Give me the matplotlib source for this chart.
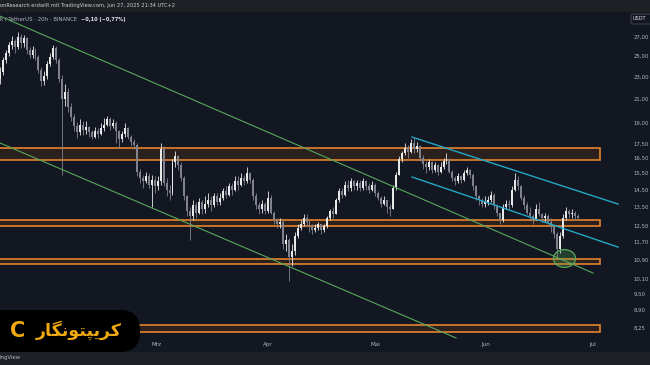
import matplotlib
matplotlib.use("Agg")
import matplotlib.pyplot as plt
import matplotlib.dates as mdates
from matplotlib.patches import Rectangle, FancyBboxPatch
from matplotlib.path import Path
from matplotlib.transforms import Affine2D
from matplotlib.ticker import NullLocator
from datetime import datetime, timedelta

# LINK/USDT 20h candles
candle_start = datetime(2025, 1, 16)
first_open = 22.8
closes = [23.4, 24.6, 25.3, 26.1, 26.6, 25.9, 27.0, 26.4, 26.9, 25.6,
          25.1, 25.6, 24.9, 23.6, 22.6, 23.0, 24.2, 24.9, 25.8, 24.6,
          22.8, 21.0, 21.6, 20.3, 19.5, 18.8, 18.3, 18.9, 18.5, 18.7,
          18.3, 18.0, 18.4, 18.2, 18.6, 18.9, 19.3, 18.8, 19.0, 18.4,
          17.8, 18.2, 18.6, 18.0, 17.6, 17.4, 15.6, 15.2, 15.0, 15.3,
          14.8, 15.1, 14.7, 15.0, 17.1, 14.9, 14.5, 14.3, 16.2, 16.6,
          16.0, 15.2, 14.1, 13.3, 13.0, 13.6, 13.2, 13.8, 13.4, 13.7,
          13.9, 13.6, 14.1, 13.8, 14.0, 14.4, 14.2, 14.7, 14.5, 15.0,
          14.8, 15.2, 15.0, 15.5, 15.1, 14.1, 13.6, 13.4, 13.7, 13.3,
          14.0, 13.2, 12.8, 12.6, 12.7, 11.6, 11.8, 11.0, 11.3, 12.0,
          12.4, 12.6, 12.9, 12.7, 12.5, 12.3, 12.4, 12.6, 12.3, 12.5,
          12.9, 13.3, 13.1, 13.9, 14.4, 14.2, 14.8, 14.6, 15.0, 14.7,
          14.9, 14.6, 15.0, 14.7, 14.5, 14.8, 14.3, 14.0, 13.7, 13.9,
          13.5, 13.4, 14.6, 15.4, 16.4, 16.8, 17.2, 16.9, 17.5, 17.1,
          17.3, 16.5, 16.1, 15.9, 16.2, 15.7, 16.0, 15.6, 15.9, 16.3,
          16.4, 15.6, 15.2, 15.0, 15.3, 15.1, 15.5, 15.7, 15.4, 14.7,
          14.1, 13.9, 13.7, 13.8, 13.9, 14.2, 13.6, 13.2, 12.8, 13.5,
          13.7, 13.6, 14.5, 15.1, 14.7, 14.0, 13.6, 13.2, 13.0, 12.8,
          13.4, 13.1, 12.9, 13.0, 12.7, 12.5, 12.1, 11.4, 12.0, 12.9,
          13.3, 13.1, 13.2, 13.0, 12.89]
highs = [23.9, 24.9, 25.6, 26.5, 27.1, 26.8, 27.6, 27.3, 27.2, 27.0,
         25.9, 26.0, 25.8, 25.1, 23.9, 23.5, 24.5, 25.3, 26.1, 26.0,
         24.8, 23.1, 22.3, 21.9, 20.6, 19.7, 19.1, 19.3, 19.2, 19.2,
         18.8, 18.5, 18.7, 18.6, 19.0, 19.4, 19.6, 19.5, 19.3, 19.2,
         18.5, 18.4, 19.0, 18.7, 18.1, 17.8, 17.5, 15.8, 15.4, 15.6,
         15.5, 15.4, 15.3, 15.3, 17.5, 17.3, 15.2, 14.8, 16.4, 17.0,
         16.7, 16.2, 15.3, 14.2, 13.5, 13.9, 13.8, 14.0, 13.9, 14.1,
         14.3, 14.1, 14.3, 14.3, 14.3, 14.6, 14.7, 14.9, 14.9, 15.3,
         15.3, 15.5, 15.4, 15.9, 15.6, 15.2, 14.3, 13.8, 13.9, 13.8,
         14.4, 14.2, 13.3, 12.9, 12.9, 12.8, 12.1, 11.9, 11.6, 12.2,
         12.6, 12.8, 13.1, 13.1, 12.8, 12.6, 12.6, 12.7, 12.6, 12.6,
         13.0, 13.4, 13.5, 14.0, 14.6, 14.6, 15.0, 15.1, 15.2, 15.1,
         15.1, 15.1, 15.2, 15.1, 14.9, 15.0, 14.9, 14.4, 14.1, 14.1,
         13.9, 13.7, 14.8, 15.6, 16.6, 17.0, 17.5, 17.4, 17.8, 17.9,
         17.6, 17.4, 16.7, 16.3, 16.4, 16.3, 16.2, 16.1, 16.2, 16.5,
         16.8, 16.5, 15.7, 15.3, 15.5, 15.4, 15.7, 15.9, 15.8, 15.5,
         14.8, 14.2, 14.0, 14.1, 14.1, 14.4, 14.3, 13.7, 13.2, 13.7,
         13.9, 13.9, 14.7, 15.5, 15.3, 14.8, 14.2, 13.8, 13.5, 13.1,
         13.7, 13.8, 13.2, 13.2, 13.1, 12.9, 12.6, 12.2, 12.2, 13.1,
         13.5, 13.4, 13.4, 13.3, 13.1]
lows = [22.3, 23.1, 24.3, 25.0, 25.7, 25.3, 25.7, 25.8, 25.9, 25.2,
        24.8, 24.8, 24.6, 23.3, 22.1, 22.2, 22.8, 24.0, 24.7, 24.3,
        22.5, 15.4, 20.4, 19.9, 19.2, 18.4, 17.9, 18.1, 18.1, 18.2,
        18.0, 17.8, 17.9, 17.9, 18.1, 18.4, 18.8, 18.5, 18.6, 17.5,
        17.2, 17.6, 18.0, 17.8, 17.3, 17.1, 15.3, 14.9, 14.6, 14.9,
        14.6, 13.5, 14.3, 14.5, 14.8, 14.7, 14.1, 13.9, 14.2, 15.9,
        15.7, 15.0, 13.9, 13.0, 11.8, 12.8, 12.9, 13.1, 13.1, 13.2,
        13.5, 13.3, 13.5, 13.6, 13.6, 13.9, 14.0, 14.1, 14.2, 14.4,
        14.5, 14.7, 14.8, 14.9, 14.9, 13.9, 13.4, 13.1, 13.2, 13.1,
        13.2, 13.1, 12.6, 12.4, 12.4, 11.4, 11.3, 10.0, 10.6, 11.1,
        11.9, 12.3, 12.5, 12.5, 12.2, 12.1, 12.2, 12.3, 12.1, 12.2,
        12.4, 12.8, 12.9, 13.1, 13.8, 14.0, 14.1, 14.4, 14.4, 14.5,
        14.5, 14.4, 14.5, 14.5, 14.3, 14.4, 14.1, 13.9, 13.5, 13.6,
        13.2, 13.0, 13.4, 14.5, 15.4, 16.2, 16.7, 16.5, 16.8, 16.8,
        16.9, 16.3, 15.8, 15.5, 15.7, 15.5, 15.6, 15.4, 15.5, 15.8,
        16.1, 15.5, 15.0, 14.8, 14.9, 14.9, 15.0, 15.4, 15.2, 14.5,
        13.9, 13.6, 13.5, 13.5, 13.6, 13.8, 13.4, 13.0, 12.6, 12.7,
        13.4, 13.4, 13.5, 14.4, 14.5, 13.9, 13.4, 13.1, 12.8, 12.6,
        12.8, 13.0, 12.7, 12.7, 12.6, 12.2, 11.9, 11.0, 11.2, 11.9,
        12.8, 12.9, 12.9, 12.8, 12.8]

# horizontal zones (low, high)
zones = [(16.35, 17.2), (12.5, 12.81), (10.7, 10.93), (8.12, 8.35)]
zone_end = datetime(2025, 7, 3, 2)

# trend lines: (start date, start price, end date, end price)
green_lines = [(datetime(2025, 1, 15), 29.6, datetime(2025, 7, 1), 10.32),
               (datetime(2025, 1, 15), 17.65, datetime(2025, 5, 23, 16), 7.92)]
cyan_lines = [(datetime(2025, 5, 11, 9), 17.96, datetime(2025, 7, 8), 13.67),
              (datetime(2025, 5, 11, 9), 15.26, datetime(2025, 7, 8), 11.47)]
highlight = (datetime(2025, 6, 22, 21), 10.95)

price_ticks = [27.0, 25.0, 23.0, 21.0, 19.0, 17.5, 16.5, 15.5, 14.5, 13.5,
               12.5, 11.7, 10.9, 10.1, 9.5, 8.9, 8.25]
month_ticks = [datetime(2025, 3, 1), datetime(2025, 4, 1), datetime(2025, 5, 1),
               datetime(2025, 6, 1), datetime(2025, 7, 1)]
month_labels = ["Mrz", "Apr", "Mai", "Jun", "Jul"]

bg = "#131722"
bar_bg = "#1e2026"
txt = "#b2b5be"
up_col = "#e8e8e8"
down_col = "#80838d"
orange = "#e5832e"
zone_fill = "#2a201e"
green = "#56a85a"
cyan = "#24a7c6"

W, H = 650, 365
fig = plt.figure(figsize=(W / 100, H / 100), dpi=100, facecolor=bg)

ax = fig.add_axes([0, 1 - 340 / H, 630 / W, (340 - 12) / H])
ax.set_facecolor(bg)
for s in ax.spines.values():
    s.set_visible(False)

# candles
opens = [first_open] + closes[:-1]
times = [mdates.date2num(candle_start + timedelta(hours=20 * i)) for i in range(len(closes))]
cols = [up_col if c >= o else down_col for o, c in zip(opens, closes)]
ax.vlines(times, lows, highs, colors=cols, linewidth=0.6, zorder=3)
bottoms = [min(o, c) for o, c in zip(opens, closes)]
heights = [max(abs(c - o), 0.03) for o, c in zip(opens, closes)]
ax.bar(times, heights, bottom=bottoms, width=0.55, color=cols, linewidth=0, zorder=4)

# zones
x0 = mdates.date2num(datetime(2025, 1, 1))
x1 = mdates.date2num(zone_end)
for lo, hi in zones:
    ax.add_patch(Rectangle((x0, lo), x1 - x0, hi - lo, facecolor=zone_fill,
                           edgecolor=orange, linewidth=1.2, zorder=2))

for d0, p0, d1, p1 in green_lines:
    ax.plot([d0, d1], [p0, p1], color=green, linewidth=0.8, zorder=5)
for d0, p0, d1, p1 in cyan_lines:
    ax.plot([d0, d1], [p0, p1], color=cyan, linewidth=1.0, zorder=5)

ell = Affine2D().scale(1, 0.8).transform_path(Path.unit_circle())
ax.plot([highlight[0]], [highlight[1]], marker=ell, ms=16, mfc=(0.35, 0.7, 0.35, 0.25),
        mec=green, mew=0.9, zorder=6)

ax.set_yscale("log")
t_left = datetime(2025, 1, 16, 1, 41)
ax.set_xlim(t_left, t_left + timedelta(days=630 / 3.574))
ax.set_ylim(7.855, 29.9)

ax.yaxis.tick_right()
ax.yaxis.set_minor_locator(NullLocator())
ax.set_yticks(price_ticks)
ax.set_yticklabels([f"{v:.2f}".replace(".", ",") for v in price_ticks])
ax.tick_params(axis="y", length=0, pad=2.5, labelsize=3.9, labelcolor=txt)
ax.set_xticks(month_ticks)
ax.set_xticklabels(month_labels)
ax.tick_params(axis="x", length=0, pad=1.5, labelsize=4.1, labelcolor=txt)

# header / footer bars
inch = fig.dpi_scale_trans
fig.patches.append(Rectangle((0, (H - 12) / 100), W / 100, 0.12, transform=inch,
                             facecolor=bar_bg, edgecolor="none", zorder=0))
fig.patches.append(Rectangle((0, 0), W / 100, (H - 352) / 100, transform=inch,
                             facecolor=bar_bg, edgecolor="none", zorder=0))
fig.text(0, 1 - 6 / H, "onResearch erstellt mit TradingView.com, Jun 27, 2025 21:34 UTC+2",
         fontsize=3.7, color="#d0d0d0", va="center", ha="left")
fig.text(0, 1 - 19 / H, "k / TetherUS · 20h · BINANCE", fontsize=3.9, color=txt,
         va="center", ha="left")
fig.text(81 / W, 1 - 19 / H, "\u22120,10 (\u22120,77%)", fontsize=3.6, color="#e8e8e8",
         va="center", ha="left", fontweight="bold")
fig.text(0, 1 - 358 / H, "ingView", fontsize=3.9, color=txt, va="center", ha="left")

# USDT box on the price scale
fig.patches.append(FancyBboxPatch((631 / 100, (H - 24) / 100), 0.3, 0.1, transform=inch,
                                  boxstyle="round,pad=0,rounding_size=0.02",
                                  facecolor=bg, edgecolor="#4a4d55", linewidth=0.6))
fig.text(633 / W, 1 - 19 / H, "USDT", fontsize=3.6, color="#e0e0e0", va="center", ha="left")

# logo badge
fig.patches.append(FancyBboxPatch((-0.3, (H - 352) / 100), 1.70, 0.42, transform=inch,
                                  boxstyle="round,pad=0,rounding_size=0.2",
                                  facecolor="black", edgecolor="none", zorder=10))
brand = "کریپتونگار"
brand_shaped = "\uFEAD\uFE8E\uFB95\uFEE7\uFEEE\uFE98\uFB59\uFBFE\uFEAE\uFB90"
fig.text(18 / W, 1 - 331 / H, "C", fontsize=15, color="#f0a910", fontweight="bold",
         va="center", ha="center", zorder=11)
fig.text(79 / W, 1 - 330 / H, brand_shaped, fontsize=12.5, color="#f0a910", fontweight="bold",
         va="center", ha="center", family="DejaVu Sans", zorder=11)

fig.savefig("out.png", dpi=100, facecolor=bg)
